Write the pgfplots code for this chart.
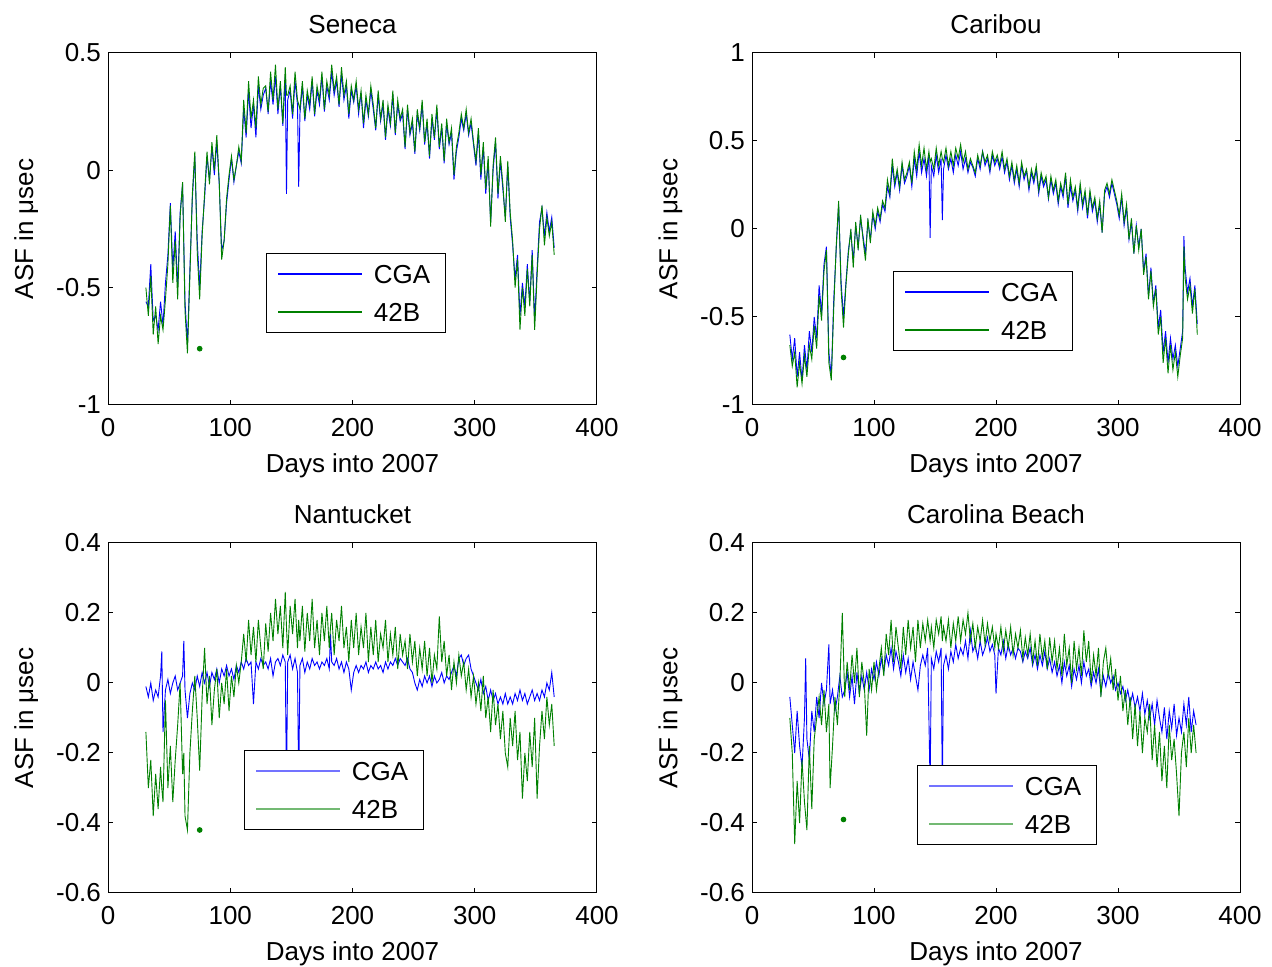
\documentclass[border=0pt]{standalone}
\usepackage{fontspec}
\setmainfont{Liberation Sans}
\usepackage{pgfplots}
\usepackage{pgfplotstable}
\pgfplotsset{compat=1.18}
\definecolor{mblue}{rgb}{0,0,1}
\definecolor{mgreen}{rgb}{0,0.5,0}
\newcommand{\fsz}{\fontsize{13}{15.6}\selectfont}

% columns: day, CGA, 42B
\pgfplotstableread{
x c b
31 -0.56 -0.50
33 -0.58 -0.62
35 -0.40 -0.45
37 -0.64 -0.70
39 -0.62 -0.58
41 -0.68 -0.74
43 -0.56 -0.62
45 -0.66 -0.68
47 -0.48 -0.55
49 -0.36 -0.40
51 -0.14 -0.15
53 -0.42 -0.48
55 -0.26 -0.30
57 -0.50 -0.55
59 -0.18 -0.20
61 -0.06 -0.05
63 -0.56 -0.60
65 -0.74 -0.78
67 -0.42 -0.45
69 -0.12 -0.10
71 0.06 0.08
73 -0.30 -0.35
75 -0.50 -0.55
77 -0.26 -0.28
79 -0.12 -0.10
81 0.06 0.08
83 -0.04 -0.06
85 0.10 0.12
87 -0.02 0.00
89 0.12 0.15
91 -0.06 -0.05
93 -0.34 -0.38
95 -0.30 -0.30
97 -0.14 -0.12
99 -0.04 -0.02
101 0.05 0.06
103 -0.05 -0.04
105 0.02 0.02
107 0.08 0.10
109 0.03 0.04
111 0.26 0.30
113 0.14 0.16
115 0.34 0.38
117 0.18 0.22
119 0.28 0.30
121 0.14 0.18
123 0.36 0.40
125 0.26 0.28
127 0.32 0.35
129 0.35 0.36
131 0.24 0.25
133 0.38 0.42
135 0.28 0.30
137 0.40 0.45
139 0.24 0.26
141 0.36 0.38
143 0.19 0.20
145 0.40 0.44
146 -0.10 0.32
147 0.30 0.32
149 0.34 0.36
151 0.22 0.24
153 0.38 0.42
155 0.28 0.30
156 -0.07 0.28
157 0.24 0.26
159 0.36 0.38
161 0.21 0.22
163 0.32 0.34
165 0.26 0.28
167 0.38 0.40
169 0.23 0.24
171 0.34 0.36
173 0.28 0.30
175 0.40 0.42
177 0.25 0.26
179 0.36 0.38
181 0.30 0.32
183 0.42 0.45
185 0.32 0.34
187 0.38 0.40
189 0.27 0.28
191 0.41 0.44
193 0.30 0.32
195 0.36 0.38
197 0.22 0.24
199 0.34 0.36
201 0.29 0.30
203 0.36 0.38
205 0.24 0.26
207 0.33 0.34
209 0.18 0.20
211 0.30 0.32
213 0.23 0.24
215 0.34 0.36
217 0.26 0.28
219 0.17 0.18
221 0.32 0.34
223 0.21 0.22
225 0.28 0.30
227 0.13 0.14
229 0.26 0.28
231 0.19 0.20
233 0.32 0.34
235 0.15 0.16
237 0.28 0.30
239 0.21 0.22
241 0.24 0.26
243 0.09 0.10
245 0.26 0.28
247 0.15 0.16
249 0.20 0.22
251 0.07 0.08
253 0.24 0.26
255 0.17 0.18
257 0.28 0.30
259 0.11 0.12
261 0.20 0.22
263 0.05 0.06
265 0.22 0.24
267 0.13 0.14
269 0.26 0.28
271 0.09 0.10
273 0.18 0.20
275 0.03 0.04
277 0.20 0.22
279 0.11 0.12
281 0.16 0.18
283 -0.04 -0.02
285 0.08 0.10
287 0.14 0.16
289 0.22 0.24
291 0.17 0.18
293 0.24 0.26
295 0.15 0.16
297 0.20 0.22
299 0.11 0.12
301 0.02 0.04
303 0.16 0.18
305 -0.04 -0.02
307 0.10 0.12
309 -0.10 -0.08
311 0.04 0.06
313 -0.22 -0.24
315 0.00 0.02
317 0.12 0.14
319 -0.12 -0.10
321 0.04 0.06
323 -0.08 -0.06
325 -0.20 -0.22
327 0.02 0.04
329 -0.20 -0.18
331 -0.32 -0.30
333 -0.46 -0.50
335 -0.36 -0.38
337 -0.62 -0.68
339 -0.48 -0.50
341 -0.58 -0.62
343 -0.40 -0.42
345 -0.56 -0.58
347 -0.34 -0.36
349 -0.64 -0.68
351 -0.42 -0.45
353 -0.22 -0.25
355 -0.16 -0.15
357 -0.28 -0.32
359 -0.18 -0.20
361 -0.26 -0.28
363 -0.20 -0.22
365 -0.33 -0.36
}\seneca

\pgfplotstableread{
x c b
31 -0.60 -0.66
33 -0.74 -0.78
35 -0.62 -0.70
37 -0.84 -0.90
39 -0.70 -0.76
41 -0.86 -0.88
43 -0.66 -0.72
45 -0.80 -0.84
47 -0.58 -0.66
49 -0.70 -0.74
51 -0.50 -0.55
53 -0.62 -0.68
55 -0.32 -0.38
57 -0.48 -0.52
59 -0.20 -0.24
61 -0.10 -0.12
63 -0.70 -0.76
65 -0.84 -0.86
67 -0.40 -0.45
69 -0.12 -0.10
71 0.14 0.16
73 -0.30 -0.34
75 -0.50 -0.56
77 -0.30 -0.32
79 -0.12 -0.14
81 -0.02 0.00
83 -0.18 -0.22
85 0.02 0.04
87 -0.10 -0.12
89 0.06 0.08
91 -0.04 -0.06
93 -0.14 -0.18
95 0.04 0.06
97 -0.06 -0.08
99 0.08 0.10
101 0.00 0.02
103 0.10 0.12
105 0.04 0.06
107 0.14 0.16
109 0.10 0.12
111 0.24 0.28
113 0.18 0.20
115 0.36 0.40
117 0.24 0.26
119 0.32 0.34
121 0.22 0.24
123 0.36 0.38
125 0.26 0.28
127 0.30 0.32
129 0.36 0.38
131 0.24 0.26
133 0.40 0.44
135 0.30 0.34
137 0.44 0.48
139 0.32 0.36
141 0.40 0.46
143 0.30 0.34
145 0.42 0.44
146 -0.05 0.38
147 0.36 0.40
149 0.30 0.34
151 0.42 0.46
153 0.32 0.36
155 0.40 0.44
156 0.05 0.40
157 0.34 0.38
159 0.42 0.46
161 0.34 0.36
163 0.40 0.44
165 0.32 0.36
167 0.42 0.46
169 0.36 0.40
171 0.44 0.48
173 0.34 0.38
175 0.40 0.44
177 0.32 0.34
179 0.38 0.40
181 0.35 0.36
183 0.30 0.32
185 0.40 0.42
187 0.34 0.36
189 0.44 0.44
191 0.36 0.38
193 0.40 0.42
195 0.32 0.34
197 0.42 0.44
199 0.36 0.38
201 0.40 0.42
203 0.34 0.36
205 0.41 0.44
207 0.32 0.34
209 0.38 0.40
211 0.28 0.30
213 0.36 0.38
215 0.26 0.28
217 0.34 0.36
219 0.24 0.26
221 0.36 0.38
223 0.28 0.30
225 0.33 0.34
227 0.22 0.24
229 0.32 0.34
231 0.26 0.28
233 0.34 0.36
235 0.20 0.22
237 0.30 0.32
239 0.24 0.26
241 0.28 0.30
243 0.17 0.18
245 0.28 0.30
247 0.20 0.22
249 0.26 0.28
251 0.14 0.16
253 0.24 0.26
255 0.18 0.20
257 0.30 0.32
259 0.12 0.14
261 0.24 0.28
263 0.16 0.18
265 0.22 0.24
267 0.10 0.12
269 0.24 0.26
271 0.12 0.14
273 0.20 0.22
275 0.06 0.08
277 0.20 0.22
279 0.10 0.12
281 0.16 0.18
283 0.04 0.06
285 0.14 0.16
287 -0.02 -0.02
289 0.20 0.22
291 0.24 0.26
293 0.18 0.20
295 0.26 0.28
297 0.20 0.22
299 0.14 0.16
301 0.06 0.08
303 0.18 0.20
305 0.02 0.04
307 0.12 0.14
309 -0.06 -0.06
311 0.04 0.06
313 -0.14 -0.14
315 0.02 0.02
317 -0.10 -0.12
319 0.00 0.00
321 -0.24 -0.26
323 -0.14 -0.16
325 -0.38 -0.40
327 -0.22 -0.24
329 -0.42 -0.44
331 -0.32 -0.34
333 -0.56 -0.60
335 -0.46 -0.50
337 -0.70 -0.76
339 -0.58 -0.62
341 -0.76 -0.82
343 -0.62 -0.66
345 -0.74 -0.80
347 -0.66 -0.70
349 -0.78 -0.84
351 -0.68 -0.72
353 -0.58 -0.62
354 -0.04 -0.10
355 -0.22 -0.28
357 -0.36 -0.40
359 -0.28 -0.32
361 -0.44 -0.48
363 -0.32 -0.34
365 -0.54 -0.60
}\caribou

\pgfplotstableread{
x c b
31 -0.01 -0.14
33 -0.04 -0.30
35 0.00 -0.22
37 -0.05 -0.38
39 -0.02 -0.26
41 -0.04 -0.36
43 0.02 -0.24
44 0.09 -0.30
45 -0.14 -0.34
47 -0.02 -0.05
49 0.01 -0.30
51 -0.03 -0.18
53 0.00 -0.34
55 0.02 -0.22
57 -0.02 -0.12
59 0.00 0.00
61 0.02 -0.26
62 0.12 -0.20
63 -0.02 -0.38
65 -0.10 -0.42
67 -0.03 -0.20
69 0.00 -0.08
71 -0.02 0.02
73 0.02 -0.10
75 -0.01 -0.25
77 0.03 -0.04
79 0.00 0.10
81 0.03 -0.06
83 -0.01 0.02
85 0.03 -0.12
87 0.01 -0.02
89 0.04 0.04
91 0.00 -0.10
93 0.04 0.00
95 0.02 -0.06
97 0.05 0.04
99 0.02 -0.08
101 0.04 0.02
103 0.01 -0.04
105 0.05 0.05
107 0.03 0.00
109 0.06 0.06
111 0.04 0.14
113 0.07 0.06
115 0.05 0.18
117 0.06 0.08
119 -0.06 0.16
121 0.06 0.06
123 0.04 0.18
125 0.07 0.10
127 0.05 0.04
129 0.06 0.17
131 0.04 0.09
133 0.07 0.20
135 0.02 0.12
137 0.06 0.24
139 0.07 0.14
141 0.05 0.22
143 0.08 0.10
145 0.06 0.26
146 -0.30 0.16
147 0.06 0.08
149 0.08 0.22
151 0.04 0.14
153 0.07 0.24
155 0.03 0.10
156 -0.30 0.18
157 0.05 0.12
159 0.07 0.22
161 0.03 0.09
163 0.06 0.20
165 0.04 0.12
167 0.07 0.24
169 0.05 0.10
171 0.06 0.18
173 0.04 0.08
175 0.06 0.20
177 0.05 0.12
179 0.07 0.22
181 0.04 0.10
182 0.14 0.16
183 0.06 0.20
185 0.05 0.08
187 0.07 0.18
189 0.04 0.12
191 0.06 0.22
193 0.03 0.10
195 0.06 0.16
197 0.04 0.06
199 -0.02 0.18
201 0.03 0.10
203 0.05 0.20
205 0.03 0.08
207 0.05 0.16
209 0.04 0.10
211 0.06 0.20
213 0.03 0.06
215 0.05 0.16
217 0.04 0.08
219 0.06 0.18
221 0.04 0.06
223 0.05 0.14
225 0.03 0.10
227 0.06 0.18
229 0.04 0.06
231 0.06 0.14
233 0.05 0.08
235 0.07 0.16
237 0.05 0.04
239 0.07 0.14
241 0.06 0.08
243 0.05 0.12
245 0.07 0.04
247 0.04 0.14
249 0.03 0.06
251 0.00 0.12
253 -0.02 0.02
255 0.01 0.10
257 -0.01 0.04
259 0.02 0.12
261 0.00 0.02
263 0.02 0.10
265 -0.01 0.00
267 0.02 0.08
269 0.00 0.04
271 0.01 0.19
273 0.03 0.06
275 0.00 0.12
277 0.02 0.02
279 0.01 0.08
281 0.03 -0.02
283 0.05 0.06
285 0.02 0.00
287 0.07 0.08
289 0.08 0.02
291 0.05 0.06
293 0.07 -0.02
295 0.08 0.04
297 0.04 -0.04
299 0.02 0.02
301 0.00 -0.06
303 -0.02 0.00
305 0.01 -0.08
307 -0.03 0.02
309 -0.01 -0.10
311 -0.05 -0.04
313 -0.02 -0.14
315 -0.05 -0.02
317 -0.03 -0.12
319 -0.06 -0.06
321 -0.04 -0.16
323 -0.06 -0.08
325 -0.03 -0.20
327 -0.06 -0.24
329 -0.04 -0.10
331 -0.06 -0.18
333 -0.03 -0.08
335 -0.05 -0.22
337 -0.02 -0.14
339 -0.05 -0.33
341 -0.03 -0.20
343 -0.06 -0.28
345 -0.04 -0.14
347 -0.02 -0.24
349 -0.05 -0.10
351 -0.03 -0.33
353 -0.05 -0.18
355 -0.02 -0.08
357 -0.04 -0.16
359 0.00 -0.04
361 -0.02 -0.12
363 0.03 -0.06
365 -0.04 -0.18
}\nantucket

\pgfplotstableread{
x c b
31 -0.04 -0.10
33 -0.12 -0.20
35 -0.20 -0.46
37 -0.08 -0.28
39 -0.18 -0.40
41 -0.24 -0.22
43 -0.10 -0.34
44 0.07 -0.38
45 -0.16 -0.42
47 -0.22 -0.18
49 -0.08 -0.36
51 -0.14 -0.16
53 -0.04 -0.10
55 -0.10 -0.04
57 0.00 -0.12
59 -0.06 -0.02
61 -0.02 -0.14
63 0.11 -0.06
64 -0.06 -0.30
66 -0.02 -0.18
68 -0.08 -0.04
70 -0.04 -0.12
72 0.02 0.00
74 -0.04 0.20
76 -0.02 -0.04
78 0.03 0.06
80 -0.04 -0.02
82 0.02 0.08
84 -0.06 0.00
86 0.03 0.10
88 -0.03 -0.04
90 0.02 0.06
92 -0.02 0.00
94 0.03 -0.15
96 -0.02 0.04
98 0.04 -0.02
100 0.01 0.06
102 0.06 -0.02
104 0.02 0.04
106 0.07 0.10
108 0.03 0.02
110 0.08 0.14
112 0.05 0.08
114 0.10 0.18
116 0.04 0.06
118 0.09 0.16
120 0.06 0.10
122 0.02 0.04
124 0.08 0.16
126 0.03 0.08
128 0.07 0.18
130 0.01 0.10
132 0.06 0.16
134 0.02 0.06
136 -0.02 0.18
138 0.05 0.10
140 0.08 0.17
142 0.05 0.12
144 0.10 0.18
146 -0.30 0.12
147 0.07 0.16
149 0.04 0.10
151 0.09 0.18
153 0.06 0.14
155 0.10 0.19
156 -0.30 0.12
157 0.05 0.16
159 0.08 0.12
161 0.04 0.18
163 0.09 0.10
165 0.06 0.17
167 0.11 0.12
169 0.07 0.19
171 0.10 0.12
173 0.08 0.18
175 0.12 0.14
177 0.07 0.20
179 0.15 0.12
181 0.09 0.17
183 0.11 0.10
185 0.07 0.16
187 0.12 0.12
189 0.08 0.18
191 0.10 0.11
193 0.13 0.17
195 0.09 0.12
197 0.11 0.16
199 0.08 0.10
200 -0.03 0.14
202 0.10 0.10
204 0.08 0.16
206 0.12 0.09
208 0.07 0.15
210 0.11 0.10
212 0.08 0.16
214 0.10 0.08
216 0.07 0.14
218 0.10 0.10
220 0.09 0.15
222 0.06 0.07
224 0.09 0.13
226 0.07 0.08
228 0.10 0.14
230 0.05 0.06
232 0.08 0.12
234 0.04 0.05
236 0.08 0.14
238 0.05 0.07
240 0.09 0.12
242 0.04 0.04
244 0.07 0.13
246 0.03 0.06
248 0.06 0.12
250 0.02 0.04
252 0.05 0.10
254 0.00 0.02
256 0.06 0.14
258 0.02 0.05
260 0.05 0.10
262 -0.01 0.00
264 0.04 0.12
266 0.01 0.04
268 0.05 0.10
270 0.00 0.02
272 0.06 0.15
274 0.02 0.06
276 0.04 0.12
278 -0.01 0.00
280 0.03 0.08
282 0.00 0.02
284 0.04 0.10
286 -0.03 -0.04
288 0.02 0.06
290 -0.01 0.10
292 0.03 0.02
294 0.00 0.07
296 0.02 -0.02
298 -0.02 0.04
300 0.00 -0.05
302 -0.03 0.02
304 -0.01 -0.08
306 -0.05 -0.02
308 -0.02 -0.12
310 -0.06 -0.04
312 -0.03 -0.16
314 -0.07 -0.06
316 -0.04 -0.18
318 -0.08 -0.08
320 -0.03 -0.20
322 -0.09 -0.10
324 -0.05 -0.14
326 -0.10 -0.06
328 -0.06 -0.22
330 -0.12 -0.12
332 -0.05 -0.24
334 -0.10 -0.14
336 -0.14 -0.28
338 -0.07 -0.18
340 -0.16 -0.30
342 -0.08 -0.12
344 -0.13 -0.22
346 -0.06 -0.16
348 -0.15 -0.26
350 -0.10 -0.38
352 -0.14 -0.20
354 -0.06 -0.14
356 -0.12 -0.24
358 -0.04 -0.10
360 -0.14 -0.20
362 -0.08 -0.12
364 -0.12 -0.20
}\carolina

\pgfplotsset{
  matlab/.style={
    scale only axis, width=244.5pt,
    xmin=0, xmax=400, xtick={0,100,200,300,400},
    tick align=inside, major tick length=2.5pt,
    axis line style={line width=0.5pt},
    every tick/.style={black, line width=0.5pt},
    /pgf/number format/assume math mode=true,
    tick label style={font=\fsz},
    xticklabel style={anchor=base, yshift=-15.8pt},
    label style={font=\fsz},
    xlabel={Days into 2007}, ylabel={ASF in μsec},
    xlabel style={at={(axis description cs:0.5,0)}, anchor=base, yshift=-33.8pt},
    ylabel style={at={(axis description cs:-0.153,0.5)}, anchor=base},
    title style={font=\fsz, at={(axis description cs:0.5,1)}, anchor=base, yshift=3.5pt},
    legend cell align=left,
    legend style={anchor=north west, fill=white,
      font=\fsz, inner xsep=5.5pt, inner ysep=3.5pt, row sep=5.5pt,
      nodes={inner sep=2pt, text height=9.5pt, text depth=0pt},
      /tikz/every odd column/.style={column sep=3.5pt}},
    legend image code/.code={\draw[#1, line width=0.8pt] (0pt,0pt) -- (42pt,0pt);},
  },
  faded legend/.style={legend image post style={opacity=0.55}},
}

\begin{document}
\begin{tikzpicture}
\useasboundingbox (0,0) rectangle (636pt,483.5pt);

\begin{axis}[matlab, at={(54pt,281pt)}, anchor=south west, height=176pt,
  ymin=-1, ymax=0.5, ytick={-1,-0.5,0,0.5}, title={Seneca},
  legend style={at={(0.323,0.432)}}]
\addplot[draw=mblue, line width=0.45pt] table[x=x,y=c]{\seneca};
\addplot[draw=mgreen, line width=0.45pt] table[x=x,y=b]{\seneca};
\addplot[only marks, mark=*, mark size=1.2pt, color=mgreen, forget plot] coordinates {(75,-0.76)};
\legend{CGA,42B}
\end{axis}

\begin{axis}[matlab, at={(376pt,281pt)}, anchor=south west, height=176pt, width=244pt,
  ymin=-1, ymax=1, ytick={-1,-0.5,0,0.5,1}, title={Caribou},
  legend style={at={(0.289,0.381)}}]
\addplot[draw=mblue, line width=0.45pt] table[x=x,y=c]{\caribou};
\addplot[draw=mgreen, line width=0.45pt] table[x=x,y=b]{\caribou};
\addplot[only marks, mark=*, mark size=1.2pt, color=mgreen, forget plot] coordinates {(75,-0.73)};
\legend{CGA,42B}
\end{axis}

\begin{axis}[matlab, faded legend, at={(54pt,37pt)}, anchor=south west, height=175pt,
  ymin=-0.6, ymax=0.4, ytick={-0.6,-0.4,-0.2,0,0.2,0.4}, title={Nantucket},
  legend style={at={(0.278,0.409)}}]
\addplot[draw=mblue, line width=0.45pt] table[x=x,y=c]{\nantucket};
\addplot[draw=mgreen, line width=0.45pt] table[x=x,y=b]{\nantucket};
\addplot[only marks, mark=*, mark size=1.2pt, color=mgreen, forget plot] coordinates {(75,-0.42)};
\legend{CGA,42B}
\end{axis}

\begin{axis}[matlab, faded legend, at={(376pt,37pt)}, anchor=south west, height=175pt, width=244pt,
  ymin=-0.6, ymax=0.4, ytick={-0.6,-0.4,-0.2,0,0.2,0.4}, title={Carolina Beach},
  legend style={at={(0.338,0.366)}}]
\addplot[draw=mblue, line width=0.45pt] table[x=x,y=c]{\carolina};
\addplot[draw=mgreen, line width=0.45pt] table[x=x,y=b]{\carolina};
\addplot[only marks, mark=*, mark size=1.2pt, color=mgreen, forget plot] coordinates {(75,-0.39)};
\legend{CGA,42B}
\end{axis}
\end{tikzpicture}
\end{document}
